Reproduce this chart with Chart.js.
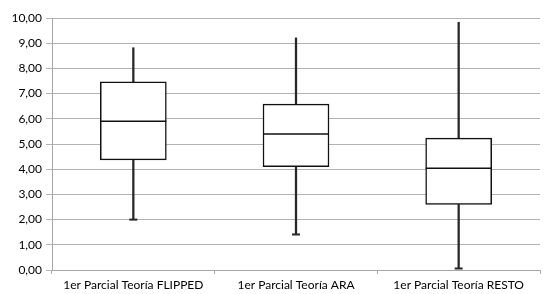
<!DOCTYPE html>
<html>
<head>
<meta charset="utf-8">
<script src="https://cdn.jsdelivr.net/npm/chart.js@4"></script>
<style>
html,body{margin:0;padding:0;background:#fff;}
#wrap{width:545px;height:294px;position:relative;}
</style>
</head>
<body>
<div id="wrap"><canvas id="c"></canvas></div>
<script>
const categories = ["1er Parcial Teoría FLIPPED", "1er Parcial Teoría ARA", "1er Parcial Teoría RESTO"];
const minValues    = [2.00, 1.41, 0.06];
const q1Values     = [4.37, 4.10, 2.60];
const medianValues = [5.90, 5.40, 4.04];
const q3Values     = [7.47, 6.58, 5.23];
const maxValues    = [8.82, 9.21, 9.83];
const yTicks = [0,1,2,3,4,5,6,7,8,9,10];

const pair = (a, b) => a.map((v, i) => [v, b[i]]);

new Chart(document.getElementById('c'), {
  data: {
    labels: categories,
    datasets: [
      { type: 'bar', data: pair(minValues, q1Values), backgroundColor: '#262626', borderWidth: 0, barThickness: 1.6, grouped: false, order: 4 },
      { type: 'bar', data: pair(q3Values, maxValues), backgroundColor: '#262626', borderWidth: 0, barThickness: 1.6, grouped: false, order: 4 },
      { type: 'bar', data: pair(q1Values, q3Values), backgroundColor: '#ffffff', borderColor: '#111', borderWidth: 1.5, borderSkipped: false, barThickness: 66, grouped: false, order: 3 },
      { type: 'line', data: medianValues, showLine: false, pointStyle: 'line', pointRadius: 33, pointBorderColor: '#111', pointBorderWidth: 1.5, order: 2 },
      { type: 'line', data: minValues, showLine: false, pointStyle: 'line', pointRadius: 4, pointBorderColor: '#262626', pointBorderWidth: 2, order: 1 }
    ]
  },
  options: {
    responsive: true,
    maintainAspectRatio: false,
    animation: false,
    devicePixelRatio: 1,
    layout: { autoPadding: false, padding: { top: 18, right: 5, left: 0, bottom: 0 } },
    plugins: { legend: { display: false }, tooltip: { enabled: false } },
    scales: {
      x: {
        offset: true,
        grid: { display: true, drawOnChartArea: false, offset: true, color: '#a6a6a6', tickLength: 4 },
        border: { display: true, color: '#a6a6a6' },
        ticks: { color: '#000', font: { family: 'Lato', size: 12 }, maxRotation: 0, padding: 4 },
        afterFit: s => { s.height = 24; }
      },
      y: {
        min: 0, max: 10,
        afterBuildTicks: s => { s.ticks = yTicks.map(v => ({ value: v })); },
        grid: { color: '#b3b3b3', lineWidth: 1, tickLength: 6 },
        border: { display: true, color: '#a6a6a6' },
        ticks: { color: '#000', font: { family: 'Lato', size: 12 }, padding: 4,
          callback: v => Number(v).toFixed(2).replace('.', ',') },
        afterFit: s => { s.width = 52; }
      }
    }
  }
});
</script>
</body>
</html>
